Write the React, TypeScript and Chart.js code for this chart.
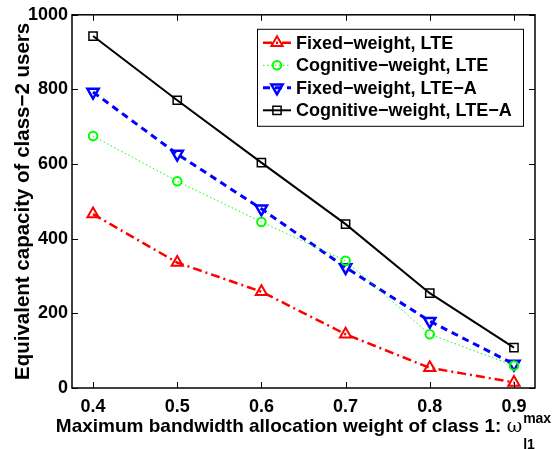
import React, { useEffect, useRef } from "react";
import { Chart, registerables } from "chart.js";
import { drawPoint } from "chart.js/helpers";

Chart.register(...registerables);

// ---- data ----
const xValues = [0.4, 0.5, 0.6, 0.7, 0.8, 0.9];
const fixedLTE = [466, 336, 258, 144, 54, 15];
const cognitiveLTE = [675, 554, 445, 341, 144, 60];
const fixedLTEA = [793, 627, 480, 323, 179, 64];
const cognitiveLTEA = [943, 771, 604, 439, 254, 108];
const seriesLabels = [
  "Fixed\u2212weight, LTE",
  "Cognitive\u2212weight, LTE",
  "Fixed\u2212weight, LTE\u2212A",
  "Cognitive\u2212weight, LTE\u2212A",
];
const xTickValues = [0.4, 0.5, 0.6, 0.7, 0.8, 0.9];
const yTickValues = [0, 200, 400, 600, 800, 1000];
const yTitle = "Equivalent capacity of class\u22122 users";
const xTitleMain = "Maximum bandwidth allocation weight of class 1: ";
const xTitleSymbol = "\u03c9";
const xTitleSup = "max";
const xTitleSub = "l1";

const FONT = "'Liberation Sans', Arial, Helvetica, sans-serif";

const styles = [
  { color: "#ff0000", dash: [9, 4, 2, 4], width: 2.5, point: "triangle", rot: 0, r: 6.5, bw: 2 },
  { color: "#00ff00", dash: [1.5, 2.5], width: 1, point: "circle", rot: 0, r: 4.3, bw: 2 },
  { color: "#0000ff", dash: [7, 5], width: 3, point: "triangle", rot: 180, r: 6.5, bw: 2.5 },
  { color: "#000000", dash: [], width: 2, point: "rect", rot: 0, r: 5.8, bw: 1.5 },
];
const seriesData = [fixedLTE, cognitiveLTE, fixedLTEA, cognitiveLTEA];

const overlay = {
  id: "overlay",
  afterDraw(chart: any) {
    const { ctx, chartArea: a, scales } = chart;
    const xs = scales.x;
    const ys = scales.y;
    ctx.save();
    // frame
    ctx.strokeStyle = "#000";
    ctx.lineWidth = 1.5;
    ctx.setLineDash([]);
    ctx.strokeRect(a.left, a.top, a.right - a.left, a.bottom - a.top);
    // inward ticks
    const tl = 6;
    ctx.lineWidth = 1;
    ctx.beginPath();
    xTickValues.forEach((v) => {
      const px = Math.round(xs.getPixelForValue(v)) + 0.5;
      ctx.moveTo(px, a.bottom);
      ctx.lineTo(px, a.bottom - tl);
      ctx.moveTo(px, a.top);
      ctx.lineTo(px, a.top + tl);
    });
    yTickValues.forEach((v) => {
      const py = Math.round(ys.getPixelForValue(v)) + 0.5;
      ctx.moveTo(a.left, py);
      ctx.lineTo(a.left + tl, py);
      ctx.moveTo(a.right, py);
      ctx.lineTo(a.right - tl, py);
    });
    ctx.stroke();

    // legend
    const bx = a.left + 185;
    const by = a.top + 14;
    const bw = a.right - 12 - bx;
    const bh = 97;
    ctx.fillStyle = "#fff";
    ctx.fillRect(bx, by, bw, bh);
    ctx.lineWidth = 1;
    ctx.strokeStyle = "#000";
    ctx.strokeRect(bx + 0.5, by + 0.5, bw, bh);
    ctx.font = `bold 18px ${FONT}`;
    ctx.textBaseline = "middle";
    ctx.textAlign = "left";
    seriesLabels.forEach((lab, i) => {
      const s = styles[i];
      const cy = by + 14 + i * 22.5;
      ctx.strokeStyle = s.color;
      ctx.lineWidth = s.width;
      ctx.setLineDash(s.dash);
      ctx.beginPath();
      ctx.moveTo(bx + 6, cy);
      ctx.lineTo(bx + 34, cy);
      ctx.stroke();
      ctx.setLineDash([]);
      ctx.lineWidth = s.bw;
      ctx.fillStyle = "rgba(0,0,0,0)";
      drawPoint(ctx, { pointStyle: s.point, rotation: s.rot, radius: s.r, borderWidth: s.bw } as any, bx + 20, cy);
      ctx.fillStyle = "#000";
      ctx.fillText(lab, bx + 39, cy + 1);
    });

    // x title
    ctx.fillStyle = "#000";
    ctx.textBaseline = "alphabetic";
    ctx.font = `bold 19px ${FONT}`;
    const wMain = ctx.measureText(xTitleMain).width;
    ctx.font = `19px 'DejaVu Serif', serif`;
    const wSym = ctx.measureText(xTitleSymbol).width;
    ctx.font = `bold 14px ${FONT}`;
    const wSup = ctx.measureText(xTitleSup).width;
    const total = wMain + wSym + wSup + 1;
    const cx = (a.left + a.right) / 2;
    let x0 = cx - total / 2;
    const baseY = 432;
    ctx.font = `bold 19px ${FONT}`;
    ctx.fillText(xTitleMain, x0, baseY);
    x0 += wMain;
    ctx.font = `19px 'DejaVu Serif', serif`;
    ctx.fillText(xTitleSymbol, x0, baseY);
    x0 += wSym + 1;
    ctx.font = `bold 14px ${FONT}`;
    ctx.fillText(xTitleSup, x0, baseY - 9);
    ctx.fillText(xTitleSub, x0, baseY + 17);

    // y title
    ctx.save();
    ctx.translate(29, (a.top + a.bottom) / 2);
    ctx.rotate(-Math.PI / 2);
    ctx.font = `bold 20.5px ${FONT}`;
    ctx.textAlign = "center";
    ctx.textBaseline = "alphabetic";
    ctx.fillText(yTitle, 0, 0);
    ctx.restore();

    ctx.restore();
  },
};

export default function App() {
  const ref = useRef<HTMLCanvasElement | null>(null);
  useEffect(() => {
    document.body.style.margin = "0";
    const canvas = ref.current!;
    const chart = new Chart(canvas, {
      type: "line",
      data: {
        datasets: seriesData.map((vals, i) => {
          const s = styles[i];
          return {
            label: seriesLabels[i],
            data: vals.map((v, j) => ({ x: xValues[j], y: v })),
            borderColor: s.color,
            borderWidth: s.width,
            borderDash: s.dash,
            backgroundColor: "rgba(0,0,0,0)",
            pointStyle: s.point as any,
            pointRotation: s.rot,
            pointRadius: s.r,
            pointBorderWidth: s.bw,
            pointBorderColor: s.color,
            pointBackgroundColor: "rgba(0,0,0,0)",
            tension: 0,
            fill: false,
          };
        }),
      },
      options: {
        animation: false,
        responsive: false,
        maintainAspectRatio: false,
        layout: { padding: { top: 5, right: 20, left: 0, bottom: 0 } },
        plugins: { legend: { display: false }, tooltip: { enabled: false }, title: { display: false } },
        scales: {
          x: {
            type: "linear",
            min: 0.375,
            max: 0.925,
            grid: { display: false, drawTicks: false },
            border: { display: false },
            afterBuildTicks: (scale: any) => {
              scale.ticks = xTickValues.map((v) => ({ value: v }));
            },
            afterFit: (scale: any) => {
              scale.height = 61;
            },
            ticks: {
              padding: 8,
              color: "#000",
              font: { family: FONT, size: 18, weight: "bold" },
              maxRotation: 0,
              autoSkip: false,
              callback: (v: any) => Number(v).toFixed(1),
            },
          },
          y: {
            type: "linear",
            min: 0,
            max: 1000,
            grid: { display: false, drawTicks: false },
            border: { display: false },
            afterBuildTicks: (scale: any) => {
              scale.ticks = yTickValues.map((v) => ({ value: v }));
            },
            afterFit: (scale: any) => {
              scale.width = 72;
            },
            ticks: {
              padding: 4,
              color: "#000",
              font: { family: FONT, size: 18, weight: "bold" },
              callback: (v: any) => String(v),
            },
          },
        },
      },
      plugins: [overlay],
    });
    return () => chart.destroy();
  }, []);
  return (
    <div style={{ width: 555, height: 449 }}>
      <canvas ref={ref} width={555} height={449} style={{ display: "block" }} />
    </div>
  );
}
